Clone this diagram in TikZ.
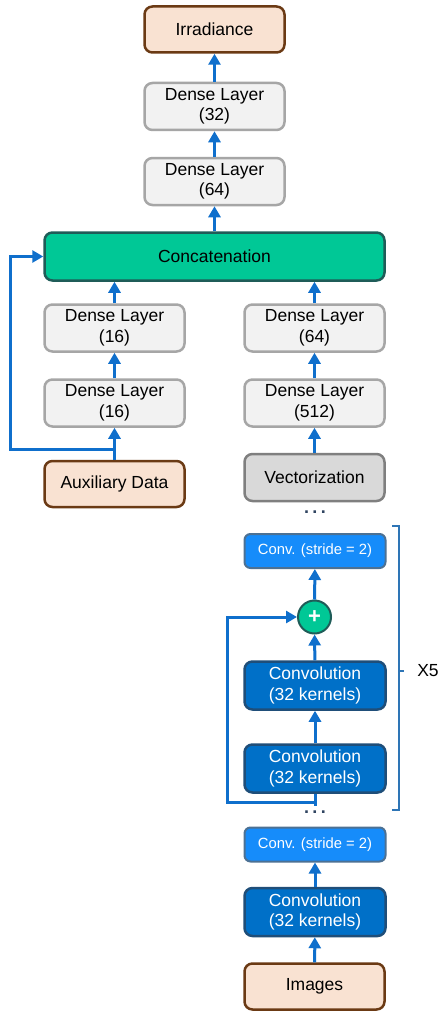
\documentclass[tikz,border=0pt]{standalone}
\usepackage{fontspec}
\setmainfont{Liberation Sans}
\usetikzlibrary{arrows.meta}
\definecolor{peach}{HTML}{F9E2D2}
\definecolor{brownb}{HTML}{6B3A14}
\definecolor{grayfill}{HTML}{F2F2F2}
\definecolor{grayb}{HTML}{A6A6A6}
\definecolor{teal}{HTML}{00C896}
\definecolor{tealb}{HTML}{1F5C58}
\definecolor{vecfill}{HTML}{D9D9D9}
\definecolor{vecb}{HTML}{7F7F7F}
\definecolor{strfill}{HTML}{168CFA}
\definecolor{convfill}{HTML}{0070C8}
\definecolor{convb}{HTML}{1F4E79}
\definecolor{arrowc}{HTML}{0F6FCC}
\definecolor{bracec}{HTML}{2E75B6}
\definecolor{dotc}{HTML}{2F4460}
\begin{document}
\begin{tikzpicture}[x=1pt,y=-1pt,
  box/.style={rectangle,rounded corners=8pt,line width=2.5pt,align=center,font=\fontsize{17.5}{20.5}\selectfont,inner sep=0pt},
  iobox/.style={box,fill=peach,draw=brownb,minimum width=140pt,minimum height=46pt},
  densebox/.style={box,fill=grayfill,draw=grayb,minimum width=140pt,minimum height=47pt},
  concatbox/.style={box,fill=teal,draw=tealb,minimum width=340pt,minimum height=48pt},
  vecbox/.style={box,fill=vecfill,draw=vecb,minimum width=140pt,minimum height=47pt},
  stridebox/.style={box,fill=strfill,draw=convb!80,text=white,minimum width=141pt,minimum height=34pt,font=\fontsize{14.8}{17}\selectfont,rounded corners=6pt,line width=2pt},
  convbox/.style={box,fill=convfill,draw=convb,text=white,minimum width=141pt,minimum height=48pt},
  flow/.style={draw=arrowc,line width=3pt,-{Triangle[width=12pt,length=11pt]}},
  flowline/.style={draw=arrowc,line width=3pt},
  dotsnode/.style={font=\bfseries\fontsize{18}{18}\selectfont,text=dotc,inner sep=0pt}
]
\useasboundingbox (0,0) rectangle (439,1014);
\fill[white] (0,0) rectangle (439,1014);

\node[iobox] (irr) at (214.5,29.5) {Irradiance};
\node[densebox] (d32) at (214.5,106.5) {Dense Layer\\(32)};
\node[densebox] (d64) at (214.5,181.5) {Dense Layer\\(64)};
\node[concatbox] (concat) at (214.5,256.5) {Concatenation};
\node[densebox] (dl1) at (114.5,328) {Dense Layer\\(16)};
\node[densebox] (dl2) at (114.5,403) {Dense Layer\\(16)};
\node[iobox] (aux) at (114.5,484) {Auxiliary Data};
\node[densebox] (dr1) at (314.5,328) {Dense Layer\\(64)};
\node[densebox] (dr2) at (314.5,403) {Dense Layer\\(512)};
\node[vecbox] (vec) at (314.5,477.5) {Vectorization};
\node[dotsnode] (dots1) at (315,512) {.\kern3.5pt.\kern3.5pt.};
\node[stridebox] (cs1) at (315,551) {Conv. (stride = 2)};
\node[circle,fill=teal,draw=tealb,line width=2pt,minimum size=33pt,inner sep=0pt,text=white,font=\bfseries\fontsize{22}{22}\selectfont] (plus) at (314.5,617) {+};
\node[convbox] (conv1) at (315,685.5) {Convolution\\(32 kernels)};
\node[convbox] (conv2) at (315,768.5) {Convolution\\(32 kernels)};
\node[dotsnode] (dots2) at (315,812) {.\kern3.5pt.\kern3.5pt.};
\node[stridebox] (cs2) at (315,844.5) {Conv. (stride = 2)};
\node[convbox] (conv3) at (315,912) {Convolution\\(32 kernels)};
\node[iobox] (img) at (314.5,986.5) {Images};
\node[font=\fontsize{17.5}{20}\selectfont,inner sep=0pt] (x5) at (428,671) {X5};

% main flow
\draw[flow] (d32) -- (irr);
\draw[flow] (d64) -- (d32);
\draw[flow] (concat.north -| d64) -- (d64);
\draw[flow] (dl1) -- (dl1 |- concat.south);
\draw[flow] (dr1) -- (dr1 |- concat.south);
\draw[flow] (dl2) -- (dl1);
\draw[flow] (dr2) -- (dr1);
\draw[flow] (aux) -- (dl2);
\draw[flow] (vec) -- (dr2);
% auxiliary skip
\coordinate (auxcorner) at (10,449);
\draw[flow] (aux.north |- auxcorner) -- (auxcorner) |- (concat.west);
% residual block
\draw[flow] (plus) -- (cs1);
\draw[flow] (conv1) -- (plus);
\draw[flow] (conv2) -- (conv1);
\coordinate (skipin) at (315,806);
\coordinate (skipcorner) at (227,802);
\draw[flowline] (conv2.south) -- (skipin);
\draw[flow] (skipin |- skipcorner) -- (skipcorner) |- (plus.west);
% bottom
\draw[flow] (conv3) -- (cs2);
\draw[flow] (img) -- (conv3);
% brace
\coordinate (bt) at (392,526);
\coordinate (bb) at (392,810);
\draw[bracec,line width=1.5pt] (bt) -- ++(7,0) -- (399,810) -- (bb);
\draw[bracec,line width=1.5pt] (399,671) -- (404,671);
\end{tikzpicture}
\end{document}
